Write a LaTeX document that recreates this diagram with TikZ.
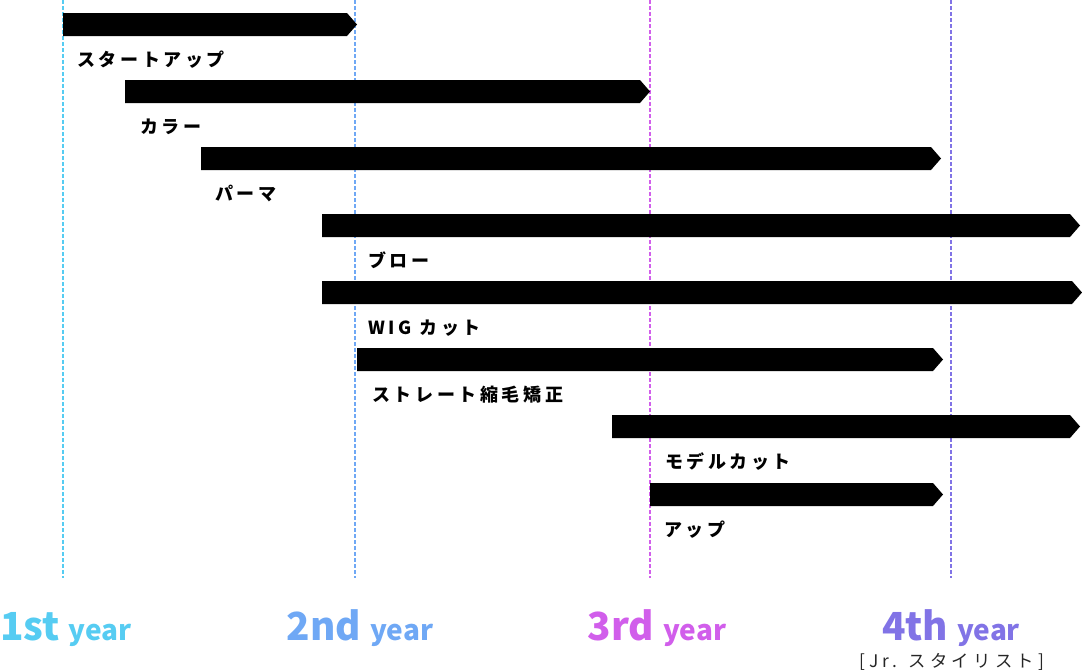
\documentclass[tikz,border=0pt]{standalone}
\usepackage{fontspec}
\setmainfont{Noto Sans CJK JP}
\usepackage{xcolor}
\usetikzlibrary{positioning}
\definecolor{yrone}{RGB}{86,204,242}
\definecolor{yrtwo}{RGB}{111,168,245}
\definecolor{yrthree}{RGB}{209,94,235}
\definecolor{yrfour}{RGB}{129,115,230}

\begin{document}
\begin{tikzpicture}[x=0.75pt,y=-0.75pt,
 course/.style={fill=black},
 guide/.style={dash pattern=on 3pt off 1.5pt,line width=1pt},
 lbl/.style={anchor=base west,inner sep=0pt,font=\bfseries\fontsize{13.5}{15}\selectfont\addfontfeature{LetterSpace=20}},
 yr/.style={anchor=base,inner sep=0pt,font=\bfseries}]
\useasboundingbox (0,0) rectangle (1082,671);
% year guides
\foreach \gx/\gc in {63/yrone,355/yrtwo,650/yrthree,951/yrfour}
  \draw[guide,\gc] (\gx,0) -- (\gx,578);
% courses
\foreach \xs/\xe/\yt/\xl/\txt [count=\i] in {63/357/13/77/スタートアップ,
  125/650/80/140/カラー,201/941/147/215/パーマ,322/1080/214/368/ブロー,
  322/1082/281/368/WIG カット,357/943/348/372/ストレート縮毛矯正,
  612/1080/415/665/モデルカット,650/943/483/664/アップ}{
  \fill[course] (\xs,\yt) -- (\xe-10,\yt) -- (\xe,\yt+11.5) -- (\xe-10,\yt+23) -- (\xs,\yt+23) -- cycle;
  \node[lbl] (lbl\i) at (\xl,\yt+53) {\txt};
}
% years
\node[yr,anchor=base west,text=yrone] (yone) at (0,640) {\fontsize{29}{29}\selectfont 1st \fontsize{21}{21}\selectfont year};
\node[yr,text=yrtwo] (ytwo) at (360,640) {\fontsize{29}{29}\selectfont 2nd \fontsize{21}{21}\selectfont year};
\node[yr,text=yrthree] (ythree) at (657,640) {\fontsize{29}{29}\selectfont 3rd \fontsize{21}{21}\selectfont year};
\node[yr,text=yrfour] (yfour) at (951,640) {\fontsize{29}{29}\selectfont 4th \fontsize{21}{21}\selectfont year};
\node[anchor=base,inner sep=0pt,font=\fontsize{13}{13}\selectfont\addfontfeature{LetterSpace=25},text=black!85] (jr) at (952,667) {[Jr. スタイリスト]};
\end{tikzpicture}
\end{document}
